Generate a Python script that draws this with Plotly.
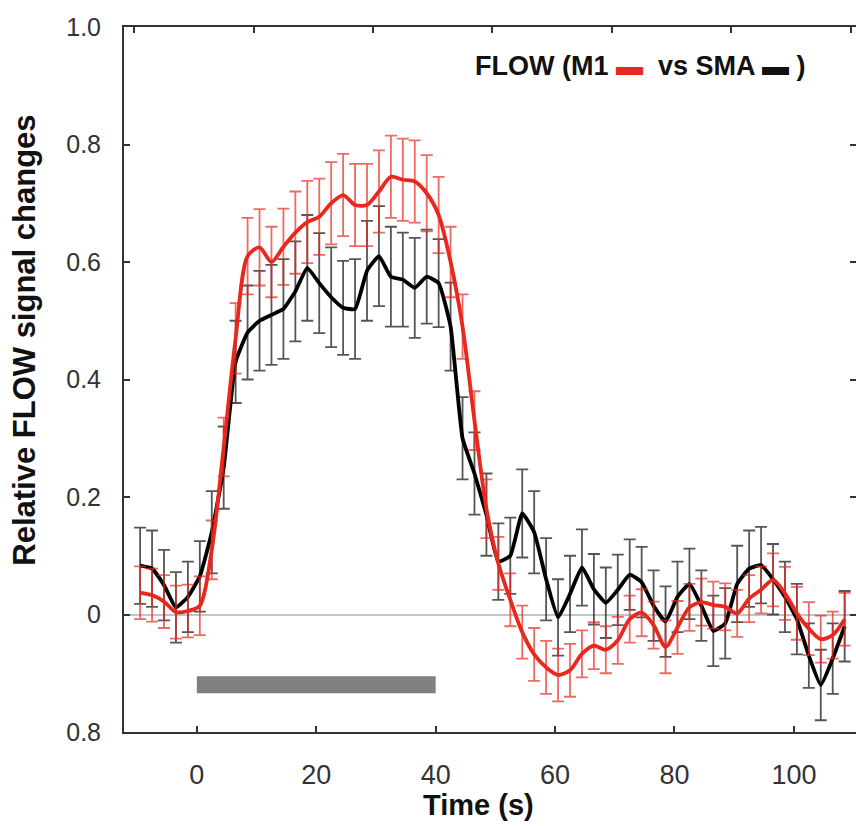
import plotly.graph_objects as go

# ---- data ----
time_s = [-9.5, -7.5, -5.5, -3.5, -1.5, 0.5, 2.5, 4.5, 6.5, 8.5,
          10.5, 12.5, 14.5, 16.5, 18.5, 20.5, 22.5, 24.5, 26.5, 28.5,
          30.5, 32.5, 34.5, 36.5, 38.5, 40.5, 42.5, 44.5, 46.5, 48.5,
          50.5, 52.5, 54.5, 56.5, 58.5, 60.5, 62.5, 64.5, 66.5, 68.5,
          70.5, 72.5, 74.5, 76.5, 78.5, 80.5, 82.5, 84.5, 86.5, 88.5,
          90.5, 92.5, 94.5, 96.5, 98.5, 100.5, 102.5, 104.5, 106.5, 108.5]

m1 = [0.037, 0.033, 0.022, 0.004, 0.006, 0.015, 0.11, 0.285, 0.47, 0.61,
      0.625, 0.60, 0.626, 0.65, 0.668, 0.677, 0.70, 0.714, 0.697, 0.697,
      0.72, 0.745, 0.74, 0.737, 0.717, 0.68, 0.60, 0.49, 0.33, 0.18,
      0.087, 0.025, -0.03, -0.068, -0.09, -0.103, -0.095, -0.067, -0.053, -0.06,
      -0.044, -0.008, 0.003, -0.018, -0.055, -0.022, 0.012, 0.021, 0.016, 0.013,
      0.002, 0.027, 0.042, 0.059, 0.036, 0.002, -0.024, -0.042, -0.035, -0.008]

m1_err = [0.045, 0.045, 0.045, 0.045, 0.045, 0.05, 0.05, 0.05, 0.06, 0.065,
          0.065, 0.06, 0.065, 0.07, 0.07, 0.065, 0.07, 0.07, 0.07, 0.07,
          0.07, 0.07, 0.07, 0.07, 0.065, 0.065, 0.06, 0.055, 0.05, 0.05,
          0.045, 0.045, 0.045, 0.045, 0.045, 0.045, 0.045, 0.04, 0.04, 0.04,
          0.04, 0.04, 0.04, 0.04, 0.045, 0.045, 0.04, 0.04, 0.04, 0.04,
          0.04, 0.04, 0.04, 0.045, 0.045, 0.045, 0.045, 0.04, 0.04, 0.045]

sma = [0.083, 0.078, 0.05, 0.012, 0.03, 0.065, 0.14, 0.25, 0.43, 0.48,
       0.50, 0.51, 0.52, 0.55, 0.59, 0.564, 0.54, 0.522, 0.52, 0.585,
       0.61, 0.575, 0.57, 0.556, 0.575, 0.564, 0.49, 0.30, 0.24, 0.17,
       0.09, 0.10, 0.172, 0.14, 0.06, -0.005, 0.035, 0.08, 0.043, 0.02,
       0.042, 0.068, 0.055, 0.015, -0.012, 0.03, 0.052, 0.015, -0.028, -0.015,
       0.052, 0.078, 0.084, 0.06, 0.03, -0.008, -0.07, -0.12, -0.075, -0.02]

sma_err = [0.065, 0.065, 0.06, 0.06, 0.06, 0.06, 0.07, 0.07, 0.07, 0.08,
           0.085, 0.085, 0.085, 0.085, 0.09, 0.085, 0.085, 0.08, 0.085, 0.085,
           0.085, 0.085, 0.08, 0.085, 0.08, 0.075, 0.075, 0.07, 0.07, 0.07,
           0.065, 0.065, 0.075, 0.07, 0.07, 0.065, 0.065, 0.065, 0.06, 0.06,
           0.06, 0.06, 0.06, 0.06, 0.06, 0.06, 0.06, 0.06, 0.06, 0.06,
           0.065, 0.065, 0.065, 0.06, 0.06, 0.06, 0.055, 0.06, 0.06, 0.06]

stim_window = [0, 40]          # stimulation period (s)
stim_band = [-0.134, -0.105]   # vertical extent of the stimulus bar

x_ticks = [0, 20, 40, 60, 80, 100]
top_ticks = [-10.5, 9.5, 29.5, 49.5, 69.5, 89.5, 109.5]
y_ticks = [-0.2, 0, 0.2, 0.4, 0.6, 0.8, 1.0]
y_tick_text = ["0.8", "0", "0.2", "0.4", "0.6", "0.8", "1.0"]

RED = "#e8281e"
FONT = "Liberation Sans"

fig = go.Figure()

fig.add_trace(go.Scatter(
    x=time_s, y=sma, mode="lines",
    line=dict(color="#000000", width=3.8, shape="spline", smoothing=0.4),
    error_y=dict(type="data", array=sma_err, color="rgba(30,30,30,0.75)",
                 thickness=1.8, width=6),
    showlegend=False, hoverinfo="skip"))

fig.add_trace(go.Scatter(
    x=time_s, y=m1, mode="lines",
    line=dict(color=RED, width=3.8, shape="spline", smoothing=0.8),
    error_y=dict(type="data", array=m1_err, color="rgba(232,40,30,0.7)",
                 thickness=1.8, width=6),
    showlegend=False, hoverinfo="skip"))

# invisible trace to anchor the mirrored top / right tick axes
fig.add_trace(go.Scatter(x=time_s, y=m1, xaxis="x2", yaxis="y2", mode="lines",
                         opacity=0, showlegend=False, hoverinfo="skip"))

fig.add_shape(type="rect", xref="x", yref="y",
              x0=stim_window[0], x1=stim_window[1],
              y0=stim_band[0], y1=stim_band[1],
              fillcolor="#808080", line=dict(width=0), layer="above")

fig.add_annotation(
    text=("<b>FLOW (M1 <span style='color:%s'>▬</span>  vs SMA ▬ )</b>" % RED),
    xref="paper", yref="paper", x=0.935, y=0.945, xanchor="right", yanchor="middle",
    showarrow=False, font=dict(family=FONT, size=27, color="#111"))

fig.add_annotation(
    text="<b>Relative FLOW signal changes</b>", textangle=-90,
    xref="paper", yref="paper", x=-0.137, y=0.556, xanchor="center", yanchor="middle",
    showarrow=False, font=dict(family=FONT, size=31, color="#111"))

fig.add_annotation(
    text="<b>Time (s)</b>",
    xref="paper", yref="paper", x=0.484, y=-0.1035, xanchor="center", yanchor="middle",
    showarrow=False, font=dict(family=FONT, size=29, color="#111"))

axis_line = "#333333"
fig.update_layout(
    width=856, height=826,
    margin=dict(l=124, r=0, t=27, b=94),
    paper_bgcolor="white", plot_bgcolor="white",
    font=dict(family=FONT, size=20, color="#333"),
    xaxis=dict(range=[-12.2, 110.4], tickvals=x_ticks, ticks="inside", ticklen=6,
               tickwidth=1.5, tickcolor=axis_line, showline=True, linecolor=axis_line,
               linewidth=2, showgrid=False, zeroline=False, ticklabelstandoff=18,
               tickfont=dict(size=27, color="#333")),
    yaxis=dict(range=[-0.2, 1.0], tickvals=y_ticks, ticktext=y_tick_text,
               ticks="inside", ticklen=6, tickwidth=1.5, tickcolor=axis_line,
               showline=True, linecolor=axis_line, linewidth=2, showgrid=False,
               zeroline=True, zerolinecolor="#c4c4c4", zerolinewidth=2,
               ticklabelstandoff=16, tickfont=dict(size=25, color="#333")),
    xaxis2=dict(range=[-12.2, 110.4], overlaying="x", side="top", anchor="y",
                tickvals=top_ticks, ticks="inside", ticklen=6, tickwidth=1.5,
                tickcolor=axis_line, showline=True, linecolor=axis_line, linewidth=2,
                showticklabels=False, showgrid=False, zeroline=False),
    yaxis2=dict(range=[-0.2, 1.0], overlaying="y", side="right", anchor="x",
                tickvals=[0, 0.2, 0.4, 0.6, 0.8], ticks="inside", ticklen=6,
                tickwidth=1.5, tickcolor=axis_line, showline=False,
                showticklabels=False, showgrid=False, zeroline=False),
)

fig.write_html("out.html")
